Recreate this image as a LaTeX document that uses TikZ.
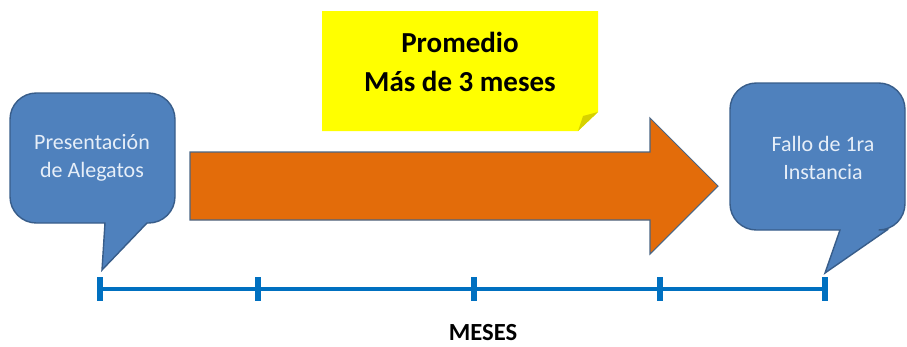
\documentclass[tikz,border=0pt]{standalone}
\usepackage{fontspec}
\setmainfont{Carlito}
\usetikzlibrary{positioning}

\definecolor{calloutblue}{HTML}{4F81BD}
\definecolor{calloutedge}{HTML}{385D8A}
\definecolor{callouttext}{HTML}{E6EEF8}
\definecolor{arroworange}{HTML}{E36C0A}
\definecolor{arrowedge}{HTML}{4A6584}
\definecolor{noteyellow}{HTML}{FFFF00}
\definecolor{notefold}{HTML}{D6D100}
\definecolor{lineblue}{HTML}{0070C0}

\tikzset{
    callout/.style={fill=calloutblue, draw=calloutedge, line width=0.8pt},
    callouttxt/.style={text=callouttext, align=center, font=\fontsize{12.5}{16}\selectfont},
    timeline/.style={draw=lineblue, line width=2.6pt},
    tickmark/.style={draw=lineblue, line width=3pt}
}

\begin{document}
\begin{tikzpicture}[x=0.02cm, y=-0.02cm, node distance=1cm]
            \useasboundingbox (0,0) rectangle (907,346);

            % yellow note
            \fill[noteyellow] (322,11) -- (598,11) -- (598,112) -- (578,131) -- (322,131) -- cycle;
            \fill[notefold] (598,112) -- (578,131) -- (583,116) -- cycle;
            \node[
                align=center,
                font=\fontsize{16.5}{22}\selectfont\bfseries,
                name=promedio
            ] at (460,62) {Promedio\\Más de 3 meses};

            % orange arrow
            \draw[fill=arroworange, draw=arrowedge, line width=0.6pt]
                (190,152) -- (650,152) -- (650,118) -- (718,186)
                -- (650,254) -- (650,220) -- (190,220) -- cycle;

            % left callout
            \draw[callout] (105,223) [rounded corners=15] -- (10,223) -- (10,93)
                -- (175,93) -- (175,223) [sharp corners] -- (147,223) -- (102,270) -- cycle;
            \node[
                callouttxt,
                name=alegatos
            ] at (92,158) {Presentación\\de Alegatos};

            % right callout
            \draw[callout] (840,230) [rounded corners=15] -- (730,230) -- (730,83)
                -- (905,83) -- (905,230) [sharp corners] -- (887,230) -- (825,273) -- cycle;
            \node[
                callouttxt,
                name=fallo
            ] at (823,158) {Fallo de 1ra\\Instancia};

            % timeline
            \coordinate (t0) at (100,289);
            \coordinate (t1) at (258,289);
            \coordinate (t2) at (474,289);
            \coordinate (t3) at (660,289);
            \coordinate (t4) at (825,289);

            \draw[timeline] (t0) -- (t4);
            \foreach \t in {t0,t1,t2,t3,t4} {
                \draw[tickmark] ([yshift=0.24cm]\t) -- ([yshift=-0.24cm]\t);
            }

            \node[
                font=\fontsize{14}{16}\selectfont\bfseries,
                name=meses
            ] at (483,333) {MESES};
        \end{tikzpicture}
\end{document}
